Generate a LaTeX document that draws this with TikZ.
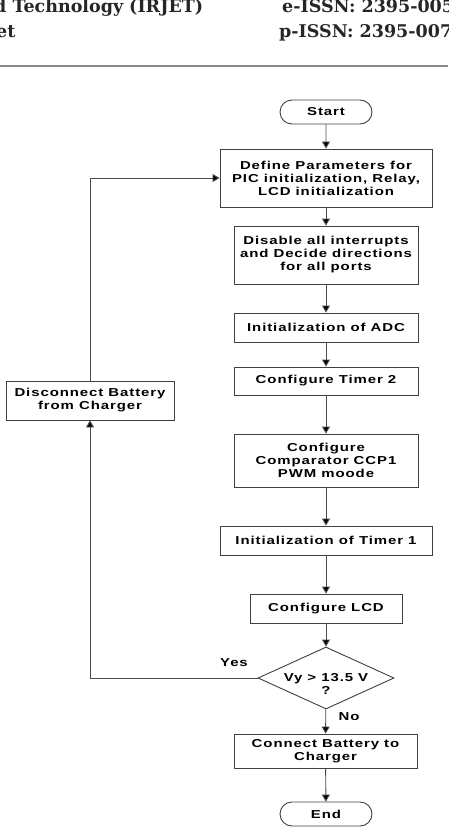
\documentclass[tikz,border=0pt]{standalone}
\usepackage{fontspec}
\setmainfont{Liberation Sans}
\newfontfamily\hdrfont{DejaVu Serif}
\newfontfamily\flowfont[FakeStretch=1.3,LetterSpace=8]{Liberation Sans}
\usetikzlibrary{shapes.geometric,shapes.misc,arrows.meta}

\begin{document}
\begin{tikzpicture}[x=1pt,y=-1pt,
  flowtext/.style={font=\flowfont\fontsize{11.5}{13}\selectfont\bfseries},
  procbox/.style={draw=black!75,line width=0.9pt,align=center,inner sep=0pt,flowtext},
  termbox/.style={rounded rectangle,draw=black!75,line width=0.9pt,inner sep=0pt,minimum width=92,minimum height=24,flowtext},
  decision/.style={diamond,draw=black!75,line width=0.9pt,inner sep=0pt,minimum width=136,minimum height=62},
  arr/.style={draw=black!70,line width=0.9pt,-{Triangle[length=7pt,width=8pt,fill=black]}},
  hdr/.style={anchor=base west,inner sep=0pt,font=\hdrfont\fontsize{17.5}{20}\selectfont\bfseries,text=black!85}]
\useasboundingbox (0,0) rectangle (448,832);
% journal header
\node[hdr] (hdrtitle) at (-6,13) {d Technology (IRJET)};
\node[hdr] (eissn) at (282,13) {e-ISSN: 2395-005};
\node[hdr] (hdrsite) at (-4,38) {et};
\node[hdr] (pissn) at (279,38) {p-ISSN: 2395-007};
\draw[black!45,line width=1.2pt] (0,66) -- (448,66);
% flowchart
\node[termbox] (start) at (326,112) {Start};
\node[procbox,minimum width=212,minimum height=58] (define) at (326,178) {Define Parameters for\\PIC initialization, Relay,\\LCD initialization};
\node[procbox,minimum width=184,minimum height=58] (disable) at (326,255) {Disable all interrupts\\and Decide directions\\for all ports};
\node[procbox,minimum width=184,minimum height=29] (adc) at (326,327.5) {Initialization of ADC};
\node[procbox,minimum width=184,minimum height=28] (tmrtwo) at (326,381) {Configure Timer 2};
\node[procbox,minimum width=184,minimum height=53] (ccp) at (326,460.5) {Configure\\Comparator CCP1\\PWM moode};
\node[procbox,minimum width=212,minimum height=29] (tmrone) at (326,540.5) {Initialization of Timer 1};
\node[procbox,minimum width=152,minimum height=29] (lcd) at (326,608.5) {Configure LCD};
\node[decision] (vcheck) at (326,678) {};
\node[flowtext,align=center,inner sep=0pt] (vchecktext) at (326,684) {Vy > 13.5 V\\?};
\node[procbox,minimum width=183,minimum height=34] (connect) at (325.5,751) {Connect Battery to\\Charger};
\node[termbox] (stop) at (326,814) {End};
\node[procbox,minimum width=168,minimum height=39] (discon) at (90,400.5) {Disconnect Battery\\from Charger};
\node[flowtext,inner sep=0pt] (yes) at (234,663) {Yes};
\node[flowtext,inner sep=0pt] (no) at (349,717) {No};

\draw[arr] (start) -- (define);
\draw[arr] (define) -- (disable);
\draw[arr] (disable) -- (adc);
\draw[arr] (adc) -- (tmrtwo);
\draw[arr] (tmrtwo) -- (ccp);
\draw[arr] (ccp) -- (tmrone);
\draw[arr] (tmrone) -- (lcd);
\draw[arr] (lcd) -- (vcheck);
\draw[arr] (vcheck) -- (connect);
\draw[arr] (connect) -- (stop);
\draw[arr] (vcheck.west) -| (discon.south);
\draw[arr] (discon.north) |- (define.west);
\end{tikzpicture}
\end{document}
